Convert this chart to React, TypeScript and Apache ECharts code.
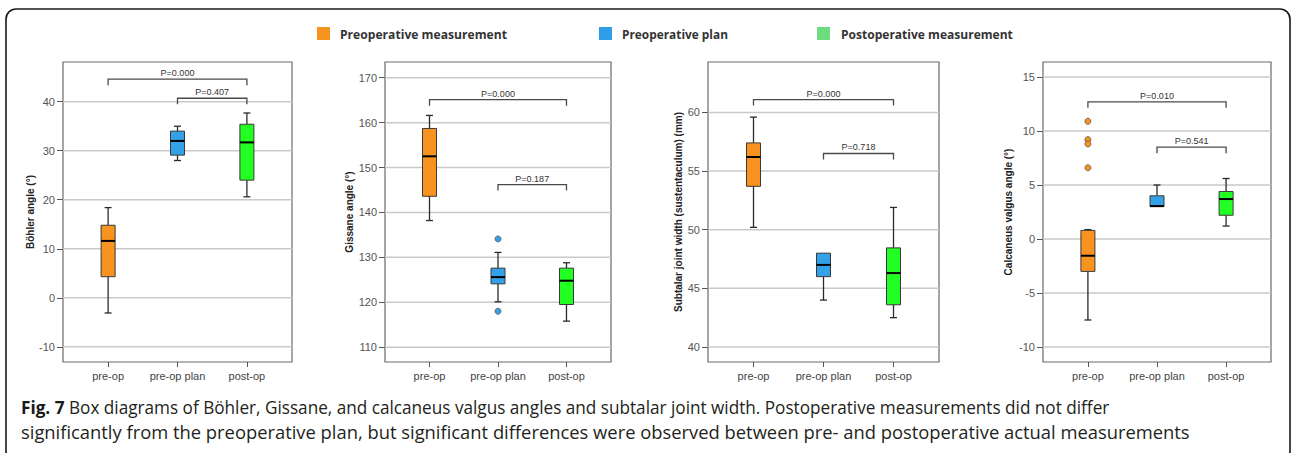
import React, { useEffect, useRef } from 'react';
import * as echarts from 'echarts';

// ---------- data ----------
const categories = ['pre-op', 'pre-op plan', 'post-op'];
const legendLabels = ['Preoperative measurement', 'Preoperative plan', 'Postoperative measurement'];
const yAxisNames = [
  'Böhler angle (°)',
  'Gissane angle (°)',
  'Subtalar joint width (sustentaculum) (mm)',
  'Calcaneus valgus angle (°)',
];

// [min, Q1, median, Q3, max] per category
const bohlerBoxes = [
  [-3.1, 4.3, 11.6, 14.8, 18.4],
  [28.0, 29.1, 32.0, 34.0, 35.0],
  [20.6, 24.0, 31.7, 35.4, 37.7],
];
const gissaneBoxes = [
  [138.2, 143.6, 152.5, 158.7, 161.6],
  [120.1, 124.1, 125.6, 127.6, 131.1],
  [115.8, 119.5, 124.8, 127.6, 128.8],
];
const subtalarBoxes = [
  [50.2, 53.7, 56.2, 57.4, 59.6],
  [44.0, 46.0, 47.0, 48.0, 48.0],
  [42.5, 43.6, 46.3, 48.45, 51.9],
];
const calcaneusBoxes = [
  [-7.5, -3.0, -1.55, 0.8, 0.87],
  [3.0, 3.0, 3.05, 4.0, 5.0],
  [1.2, 2.2, 3.7, 4.4, 5.6],
];

// outliers: [categoryIndex, value]
const bohlerOutliers: number[][] = [];
const gissaneOutliers = [[1, 134.1], [1, 118.0]];
const subtalarOutliers: number[][] = [];
const calcaneusOutliers = [[0, 10.9], [0, 9.2], [0, 8.8], [0, 6.6]];

// brackets: [fromCategory, toCategory, value]
const bohlerBrackets = [[0, 2, 44.6], [1, 2, 40.7]];
const gissaneBrackets = [[0, 2, 165.1], [1, 2, 146.2]];
const subtalarBrackets = [[0, 2, 61.1], [1, 2, 56.5]];
const calcaneusBrackets = [[0, 2, 12.7], [1, 2, 8.5]];
const bohlerP = ['P=0.000', 'P=0.407'];
const gissaneP = ['P=0.000', 'P=0.187'];
const subtalarP = ['P=0.000', 'P=0.718'];
const calcaneusP = ['P=0.010', 'P=0.541'];

// tick labels
const bohlerTicks = [-10, 0, 10, 20, 30, 40];
const gissaneTicks = [110, 120, 130, 140, 150, 160, 170];
const subtalarTicks = [40, 45, 50, 55, 60];
const calcaneusTicks = [-10, -5, 0, 5, 10, 15];

const bohlerRange = [-13.1, 48.1];
const gissaneRange = [106.7, 173.5];
const subtalarRange = [38.72, 64.3];
const calcaneusRange = [-11.39, 16.39];

const captionLine1Bold = 'Fig. 7';
const captionLine1 = ' Box diagrams of Böhler, Gissane, and calcaneus valgus angles and subtalar joint width. Postoperative measurements did not differ';
const captionLine2 = 'significantly from the preoperative plan, but significant differences were observed between pre- and postoperative actual measurements';

// ---------- styling / layout ----------
const boxColors = ['#F7931E', '#33A1E8', '#22FF22'];
const legendColors = ['#F7931E', '#2E9EE8', '#6DDB7E'];
const AXIS_FONT = '"Liberation Sans", Arial, sans-serif';
const LEGEND_FONT = '"Open Sans", sans-serif';

const panels = [
  { boxes: bohlerBoxes, outliers: bohlerOutliers, brackets: bohlerBrackets, p: bohlerP, ticks: bohlerTicks, range: bohlerRange },
  { boxes: gissaneBoxes, outliers: gissaneOutliers, brackets: gissaneBrackets, p: gissaneP, ticks: gissaneTicks, range: gissaneRange },
  { boxes: subtalarBoxes, outliers: subtalarOutliers, brackets: subtalarBrackets, p: subtalarP, ticks: subtalarTicks, range: subtalarRange },
  { boxes: calcaneusBoxes, outliers: calcaneusOutliers, brackets: calcaneusBrackets, p: calcaneusP, ticks: calcaneusTicks, range: calcaneusRange },
];
const gridLayout = [
  { left: 63, top: 62, width: 229, height: 300, nameGap: 26 },
  { left: 385, top: 62, width: 226, height: 300, nameGap: 30 },
  { left: 708, top: 62, width: 231, height: 300, nameGap: 23 },
  { left: 1043, top: 62, width: 228, height: 300, nameGap: 30 },
];

function measure(text: string, font: string): number {
  const c = document.createElement('canvas').getContext('2d');
  if (!c) return text.length * 7;
  c.font = font;
  return c.measureText(text).width;
}

function App() {
  const ref = useRef<HTMLDivElement>(null);
  useEffect(() => {
    if (!ref.current) return;
    const chart = echarts.init(ref.current, null, { renderer: 'svg' });

    const grid: any[] = [];
    const xAxis: any[] = [];
    const yAxis: any[] = [];
    const series: any[] = [];

    panels.forEach((pn, i) => {
      const g = gridLayout[i];
      grid.push({
        left: g.left, top: g.top, width: g.width, height: g.height,
        show: true, borderColor: '#6b6b6b', borderWidth: 1.2, backgroundColor: 'rgba(0,0,0,0)',
      });
      xAxis.push({
        gridIndex: i, type: 'value', min: -0.65, max: 2.65, position: 'bottom',
        splitLine: { show: false }, axisLine: { show: false, onZero: false },
        axisTick: { show: true, customValues: [0, 1, 2], length: 5, lineStyle: { color: '#555' } },
        axisLabel: {
          customValues: [0, 1, 2], color: '#444', fontSize: 11, fontFamily: AXIS_FONT, margin: 8,
          formatter: (v: number) => (Number.isInteger(v) ? categories[v] ?? '' : ''),
        },
      });
      yAxis.push({
        gridIndex: i, type: 'value', min: pn.range[0], max: pn.range[1], position: 'left',
        name: yAxisNames[i], nameLocation: 'middle', nameGap: g.nameGap,
        nameTextStyle: { fontWeight: 'bold', fontSize: 10, color: '#222', fontFamily: AXIS_FONT },
        splitLine: { show: false }, axisLine: { show: false, onZero: false },
        axisTick: { show: true, customValues: pn.ticks, length: 6, lineStyle: { color: '#555' } },
        axisLabel: { customValues: pn.ticks, color: '#555', fontSize: 11, fontFamily: AXIS_FONT, margin: 8 },
      });

      // horizontal grid lines
      series.push({
        type: 'custom', xAxisIndex: i, yAxisIndex: i, silent: true, z: 1,
        data: pn.ticks.map((v) => [0, v]),
        encode: { x: 0, y: 1 },
        renderItem: (params: any, api: any) => {
          const y = api.coord([0, api.value(1)])[1];
          const cs = params.coordSys;
          return {
            type: 'line',
            shape: { x1: cs.x, y1: y, x2: cs.x + cs.width, y2: y },
            style: { stroke: '#c9c9c9', lineWidth: 1.5 },
          };
        },
      });

      // boxes
      series.push({
        type: 'custom', xAxisIndex: i, yAxisIndex: i, silent: true, z: 3,
        data: pn.boxes.map((b, k) => [k, ...b]),
        encode: { x: 0, y: [1, 2, 3, 4, 5] },
        renderItem: (params: any, api: any) => {
          const x = api.value(0);
          const [mn, q1, md, q3, mx] = [1, 2, 3, 4, 5].map((d) => api.value(d));
          const cx = api.coord([x, md])[0];
          const Y = (v: number) => api.coord([x, v])[1];
          const hw = 7, cap = 3.5;
          const children: any[] = [];
          const wStyle = { stroke: '#2a2a2a', lineWidth: 1.3 };
          if (mx > q3) {
            children.push({ type: 'line', shape: { x1: cx, y1: Y(q3), x2: cx, y2: Y(mx) }, style: wStyle });
            children.push({ type: 'line', shape: { x1: cx - cap, y1: Y(mx), x2: cx + cap, y2: Y(mx) }, style: wStyle });
          }
          if (mn < q1) {
            children.push({ type: 'line', shape: { x1: cx, y1: Y(q1), x2: cx, y2: Y(mn) }, style: wStyle });
            children.push({ type: 'line', shape: { x1: cx - cap, y1: Y(mn), x2: cx + cap, y2: Y(mn) }, style: wStyle });
          }
          children.push({
            type: 'rect',
            shape: { x: cx - hw, y: Y(q3), width: hw * 2, height: Y(q1) - Y(q3) },
            style: { fill: boxColors[x], stroke: '#3a3a3a', lineWidth: 1 },
          });
          children.push({
            type: 'line', shape: { x1: cx - hw, y1: Y(md), x2: cx + hw, y2: Y(md) },
            style: { stroke: '#000', lineWidth: 2 },
          });
          return { type: 'group', children };
        },
      });

      // outliers
      if (pn.outliers.length) {
        series.push({
          type: 'scatter', xAxisIndex: i, yAxisIndex: i, silent: true, z: 4,
          symbol: 'circle', symbolSize: 6,
          data: pn.outliers,
          itemStyle: {
            color: (p: any) => boxColors[p.value[0]],
            borderColor: '#555', borderWidth: 0.8, opacity: 1,
          },
        });
      }

      // significance brackets
      series.push({
        type: 'custom', xAxisIndex: i, yAxisIndex: i, silent: true, z: 5,
        data: pn.brackets,
        encode: { x: [0, 1], y: 2 },
        renderItem: (params: any, api: any) => {
          const a = api.coord([api.value(0), api.value(2)]);
          const b = api.coord([api.value(1), api.value(2)]);
          const drop = 6;
          return {
            type: 'group',
            children: [
              {
                type: 'polyline',
                shape: { points: [[a[0], a[1] + drop], [a[0], a[1]], [b[0], b[1]], [b[0], b[1] + drop]] },
                style: { stroke: '#4a4a4a', lineWidth: 1.3, fill: 'none' },
              },
              {
                type: 'text',
                x: (a[0] + b[0]) / 2, y: a[1] - 6,
                style: {
                  text: pn.p[params.dataIndex], fontSize: 9, fontFamily: AXIS_FONT, fill: '#333',
                  align: 'center', verticalAlign: 'middle',
                },
              },
            ],
          };
        },
      });
    });

    // graphic: border, legend, caption
    const graphic: any[] = [];
    graphic.push({
      type: 'rect', shape: { x: 6, y: 9, width: 1284, height: 452, r: 10 },
      style: { stroke: '#1a1a1a', lineWidth: 1.6, fill: 'none' }, z: 0,
    });
    const legendPos = [
      { sq: 317, tx: 340, w: 167 },
      { sq: 599, tx: 622, w: 106 },
      { sq: 817, tx: 841, w: 172 },
    ];
    legendLabels.forEach((lbl, k) => {
      const lp = legendPos[k];
      graphic.push({ type: 'rect', shape: { x: lp.sq, y: 27, width: 13, height: 13 }, style: { fill: legendColors[k] } });
      const fw = measure(lbl, `bold 13px ${LEGEND_FONT}`);
      graphic.push({
        type: 'text', x: lp.tx, y: 34, scaleX: lp.w / fw,
        style: { text: lbl, fontSize: 13, fontWeight: 'bold', fontFamily: LEGEND_FONT, fill: '#333', align: 'left', verticalAlign: 'middle' },
      });
    });
    const CAP = 18;
    const w1 = measure(captionLine1Bold, `bold ${CAP}px ${LEGEND_FONT}`) + measure(captionLine1, `${CAP}px ${LEGEND_FONT}`);
    const w2 = measure(captionLine2, `${CAP}px ${LEGEND_FONT}`);
    graphic.push({
      type: 'text', x: 21, y: 407, scaleX: (1110 - 21) / w1,
      style: {
        text: `{b|${captionLine1Bold}}${captionLine1}`,
        fontSize: CAP, fontFamily: LEGEND_FONT, fill: '#231F20', align: 'left', verticalAlign: 'middle',
        rich: { b: { fontSize: CAP, fontFamily: LEGEND_FONT, fontWeight: 'bold', fill: '#1a1a1a' } },
      },
    });
    graphic.push({
      type: 'text', x: 21, y: 432, scaleX: (1191 - 21) / w2,
      style: { text: captionLine2, fontSize: CAP, fontFamily: LEGEND_FONT, fill: '#231F20', align: 'left', verticalAlign: 'middle' },
    });

    chart.setOption({
      animation: false,
      backgroundColor: '#ffffff',
      grid, xAxis, yAxis, series, graphic,
    });
    return () => chart.dispose();
  }, []);
  return (
    <div
      ref={ref}
      style={{ position: 'absolute', left: 0, top: 0, width: 1292, height: 453, background: '#fff' }}
    />
  );
}

export default App;
